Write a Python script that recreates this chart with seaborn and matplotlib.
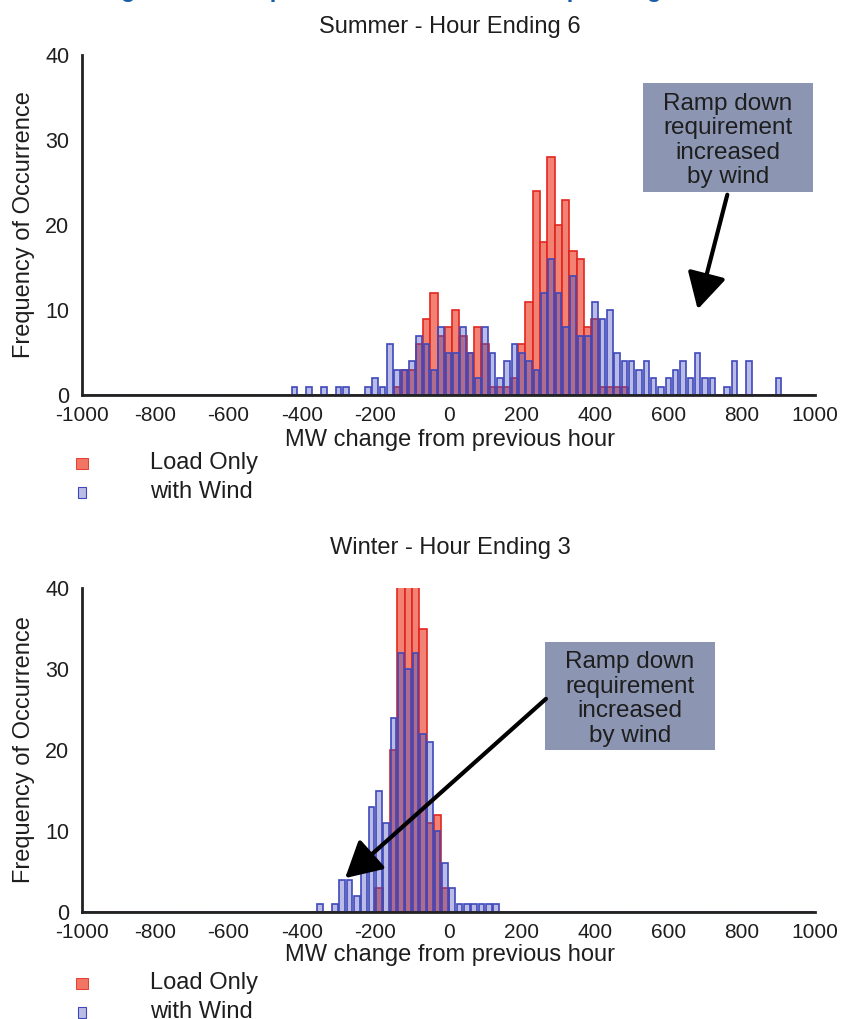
import matplotlib
matplotlib.use("agg")
import matplotlib.pyplot as plt
import numpy as np
import pandas as pd
import seaborn as sns
from matplotlib.patches import Rectangle, FancyArrowPatch

# MW bin centres (20 MW bins) and counts
summer_mw = [-420, -380, -340, -300, -280, -220, -200, -180, -160, -140, -120, -100,
             -80, -60, -40, -20, 0, 20, 40, 60, 80, 100, 120, 140, 160, 180, 200,
             220, 240, 260, 280, 300, 320, 340, 360, 380, 400, 420, 440, 460, 480,
             500, 520, 540, 560, 580, 600, 620, 640, 660, 680, 700, 720, 760, 780,
             820, 900]
summer_load = [0, 0, 0, 0, 0, 0, 0, 0, 0, 1, 3, 3,
               6, 9, 12, 7, 8, 10, 7, 5, 8, 6, 1, 1, 1, 2, 6,
               11, 24, 18, 28, 20, 23, 17, 16, 8, 9, 1, 1, 1, 1,
               0, 0, 0, 0, 0, 0, 0, 0, 0, 0, 0, 0, 0, 0,
               0, 0]
summer_wind = [1, 1, 1, 1, 1, 1, 2, 1, 6, 3, 3, 4,
               7, 6, 3, 8, 5, 5, 8, 5, 2, 8, 5, 2, 4, 6, 5,
               4, 3, 12, 16, 12, 8, 14, 7, 7, 11, 9, 10, 5, 4,
               4, 3, 4, 2, 1, 2, 3, 4, 2, 5, 2, 2, 1, 4,
               4, 2]

winter_mw = [-350, -310, -290, -270, -250, -230, -210, -190, -170, -150, -130, -110,
             -90, -70, -50, -30, -10, 10, 30, 50, 70, 90, 110, 130]
winter_load = [0, 0, 0, 0, 0, 0, 0, 3, 0, 20, 45, 45,
               45, 35, 11, 12, 3, 0, 0, 0, 0, 0, 0, 0]
winter_wind = [1, 1, 4, 4, 2, 5, 13, 15, 11, 24, 32, 30,
               32, 22, 21, 10, 6, 3, 1, 1, 1, 1, 1, 1]

xticks = list(range(-1000, 1001, 200))
yticks = [0, 10, 20, 30, 40]
titles = ["Summer - Hour Ending 6", "Winter - Hour Ending 3"]
note = "Ramp down\nrequirement\nincreased\nby wind"
caption = "Figure 7: Example of Load and Wind Ramp Changes"

W, H = 848, 1019
RED_FILL = "#f07565"
RED_EDGE = "#e3261f"
BLUE_EDGE = "#3e48bb"
BLUE_FILL = (0.25, 0.28, 0.72, 0.36)
BOX = "#8c96b3"
INK = "#1e1e1e"
FONT = ["Liberation Sans", "DejaVu Sans"]


def fx(x):
    return x / W


def fy(y):
    return 1 - y / H


sns.set_style("white")
plt.rcParams["font.family"] = FONT
plt.rcParams["text.color"] = INK

fig = plt.figure(figsize=(W / 100, H / 100), dpi=100)
fig.patch.set_facecolor("white")

# caption of the page, mostly cut off by the top edge
fig.text(fx(100), fy(-3), caption, ha="left", va="baseline", fontsize=17,
         fontweight="bold", color="#1a5ca5")


def hist_panel(top, bottom, mw, load, wind, edges, title, title_y, xl_y, leg_y):
    ax = fig.add_axes([fx(82), fy(bottom), fx(815) - fx(82), fy(top) - fy(bottom)])
    df = pd.DataFrame({"mw": mw, "load": load, "wind": wind})
    edges = [float(e) for e in edges]
    sns.histplot(data=df, x="mw", weights="load", bins=edges, ax=ax, color=RED_FILL,
                 edgecolor=RED_EDGE, linewidth=1.2, alpha=0.9)
    sns.histplot(data=df, x="mw", weights="wind", bins=edges, ax=ax, shrink=0.75,
                 facecolor=BLUE_FILL, edgecolor=BLUE_EDGE, linewidth=1.2)
    ax.set_xlim(-1000, 1000)
    ax.set_ylim(0, 40)
    ax.set_xticks(xticks)
    ax.set_yticks(yticks)
    ax.set_xticklabels([str(t) for t in xticks], fontsize=15, color=INK)
    ax.set_yticklabels([str(t) for t in yticks], fontsize=15.5, color=INK)
    ax.tick_params(axis="x", length=0, pad=8)
    ax.tick_params(axis="y", length=0, pad=9)
    ax.set_xlabel("")
    ax.set_ylabel("")
    for s in ["top", "right"]:
        ax.spines[s].set_visible(False)
    for s in ["left", "bottom"]:
        ax.spines[s].set_color("#222222")
        ax.spines[s].set_linewidth(2)
    ax.set_facecolor("white")

    fig.text(fx(450), fy(title_y), title, ha="center", va="center", fontsize=17)
    fig.text(fx(24), fy((top + bottom) / 2), "Frequency of Occurrence", rotation=90,
             ha="center", va="center", fontsize=17)
    fig.text(fx(450), fy(xl_y), "MW change from previous hour", ha="center",
             va="center", fontsize=17)

    # legend
    fig.add_artist(Rectangle((fx(76), fy(leg_y + 6)), 12 / W, 11 / H,
                             facecolor=RED_FILL, edgecolor=RED_EDGE, lw=0.6))
    fig.add_artist(Rectangle((fx(78), fy(leg_y + 35)), 8 / W, 11 / H,
                             facecolor=BLUE_FILL, edgecolor=BLUE_EDGE, lw=0.8))
    fig.text(fx(150), fy(leg_y), "Load Only", ha="left", va="center", fontsize=17)
    fig.text(fx(150), fy(leg_y + 29), "with Wind", ha="left", va="center", fontsize=17)
    return ax


ax1 = hist_panel(55, 395, summer_mw, summer_load, summer_wind,
                 np.arange(-1010, 1011, 20), titles[0], 27, 440, 463)
ax2 = hist_panel(588, 912, winter_mw, winter_load, winter_wind,
                 np.arange(-1000, 1001, 20), titles[1], 548, 955, 983)


def note_box(x0, y0, x1, y1, tail, head):
    fig.add_artist(Rectangle((fx(x0), fy(y1)), (x1 - x0) / W, (y1 - y0) / H,
                             facecolor=BOX, edgecolor="none"))
    fig.text(fx((x0 + x1) / 2), fy((y0 + y1) / 2 + 3), note, ha="center", va="center",
             fontsize=17.5, linespacing=1.15)
    fig.add_artist(FancyArrowPatch(
        (fx(tail[0]), fy(tail[1])), (fx(head[0]), fy(head[1])),
        transform=fig.transFigure, arrowstyle="-|>,head_length=11,head_width=6",
        color="black", lw=3, mutation_scale=2))


note_box(643, 83, 813, 192, (728, 192), (697, 312))
note_box(545, 642, 715, 750, (548, 697), (343, 880))

fig.savefig("out.png", dpi=100, facecolor="white")
